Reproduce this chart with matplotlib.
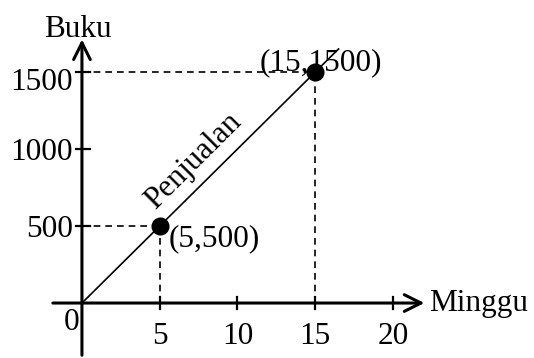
import matplotlib.pyplot as plt

# Data penjualan buku
minggu = [0, 5, 15]
buku = [0, 500, 1500]
titik_x = [5, 15]
titik_y = [500, 1500]
label_titik = ['(5,500)', '(15,1500)']
xticks = [5, 10, 15, 20]
yticks = [500, 1000, 1500]

plt.rcParams['font.family'] = ['Liberation Serif', 'DejaVu Serif']
fs = 22.5

fig = plt.figure(figsize=(5.34, 3.58), dpi=100)
ax = fig.add_axes([0, 0, 1, 1])
ax.set_xlim(-5.27, 29.07)
ax.set_ylim(-357, 1968)
ax.axis('off')

# sumbu dengan panah
ax.annotate('', xy=(22.2, 0), xytext=(-2.05, 0),
            arrowprops=dict(arrowstyle='->', lw=2.2, mutation_scale=30, color='black'))
ax.annotate('', xy=(0, 1730), xytext=(0, -357),
            arrowprops=dict(arrowstyle='->', lw=2.2, mutation_scale=30, color='black'))
ax.text(22.3, 0, 'Minggu', fontsize=fs, va='center', ha='left')
ax.text(-0.25, 1680, 'Buku', fontsize=fs, va='bottom', ha='center')
ax.text(-0.65, -30, '0', fontsize=fs, va='top', ha='center')

# tick
for t in xticks:
    ax.plot([t, t], [-40, 40], color='black', lw=1.6)
    ax.text(t, -215, str(t), fontsize=fs, va='center', ha='center')
for t in yticks:
    ax.plot([-0.4, 0.5], [t, t], color='black', lw=1.6)
    off = -65 if t == 1500 else -20
    ax.text(-0.6, t + off, str(t), fontsize=fs, va='center', ha='right')

# garis penjualan
slope = buku[-1] / minggu[-1]
x_end = 16.5
ax.plot([minggu[0], x_end], [buku[0], slope * x_end], color='black', lw=1.2)

# garis putus-putus
for x, y in zip(titik_x, titik_y):
    ax.plot([0, x], [y, y], color='black', lw=1.2, ls=(0, (4, 3)))
    ax.plot([x, x], [0, y], color='black', lw=1.2, ls=(0, (4, 3)))

ax.plot(titik_x, titik_y, 'o', color='black', ms=12, zorder=5)

ax.text(5.55, 420, label_titik[0], fontsize=fs, va='center', ha='left')
ax.text(11.4, 1560, label_titik[1], fontsize=fs, va='center', ha='left')

ax.text(7.2, 920, 'Penjualan', fontsize=fs, va='center', ha='center',
        rotation=45, rotation_mode='anchor')

plt.savefig('out.png', dpi=100)
